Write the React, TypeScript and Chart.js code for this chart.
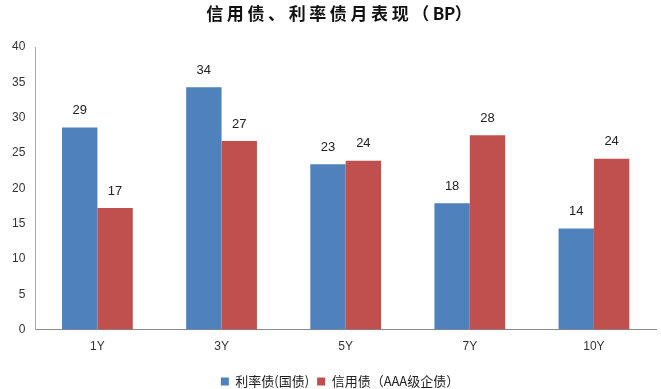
import React, { useEffect, useRef } from "react";
import { Chart, registerables } from "chart.js";

Chart.register(...registerables);

const categories = ["1Y", "3Y", "5Y", "7Y", "10Y"];
const rateBond = [28.6, 34.3, 23.4, 17.9, 14.3];
const creditBond = [17.2, 26.7, 23.9, 27.5, 24.2];
const seriesNames = ["利率债(国债)", "信用债（AAA级企债）"];
const titleText = "信用债、利率债月表现（BP）";

const valueLabels = {
  id: "valueLabels",
  afterDatasetsDraw(chart: any) {
    const ctx = chart.ctx;
    ctx.save();
    ctx.font = "13px 'Liberation Sans', Arial, sans-serif";
    ctx.fillStyle = "#222";
    ctx.textAlign = "center";
    ctx.textBaseline = "middle";
    chart.data.datasets.forEach((ds: any, i: number) => {
      const meta = chart.getDatasetMeta(i);
      meta.data.forEach((bar: any, j: number) => {
        ctx.fillText(String(Math.round(ds.data[j])), bar.x, bar.y - 17);
      });
    });
    ctx.restore();
  },
};

const spacedTitle = {
  id: "spacedTitle",
  afterDraw(chart: any) {
    const ctx = chart.ctx;
    ctx.save();
    ctx.font = "bold 17px 'Noto Sans CJK SC', sans-serif";
    ctx.fillStyle = "#111";
    ctx.textAlign = "left";
    ctx.textBaseline = "middle";
    const chars = Array.from(titleText);
    let total = 0;
    const adv = chars.map((c) => {
      const w = ctx.measureText(c).width;
      const a = /[A-Za-z]/.test(c) ? w - 0.5 : w + 3.6;
      total += a;
      return a;
    });
    let x = 339 - (total - 3.6) / 2;
    chars.forEach((c, i) => {
      ctx.fillText(c, x, 14);
      x += adv[i];
    });
    ctx.restore();
  },
};

const shiftLegend = {
  id: "shiftLegend",
  afterLayout(chart: any) {
    if (chart.legend) {
      chart.legend.left += 11;
      chart.legend.right += 11;
    }
  },
};

export default function App() {
  const ref = useRef<HTMLCanvasElement>(null);
  useEffect(() => {
    const chart = new Chart(ref.current!, {
      type: "bar",
      data: {
        labels: categories,
        datasets: [
          { label: seriesNames[0], data: rateBond, backgroundColor: "#4F81BD" },
          { label: seriesNames[1], data: creditBond, backgroundColor: "#C0504D" },
        ],
      },
      options: {
        animation: false,
        responsive: false,
        maintainAspectRatio: false,
        layout: { padding: { left: 2, right: 5, top: 47, bottom: -9 } },
        datasets: {
          bar: { categoryPercentage: 0.57, barPercentage: 1.0 },
        } as any,
        scales: {
          x: {
            grid: { display: false, drawTicks: false },
            border: { color: "#8a8a8a", width: 1 },
            ticks: {
              color: "#333",
              font: { size: 12, family: "'Liberation Sans', Arial, sans-serif" },
              padding: 10,
            },
            afterFit(scale: any) {
              scale.height += 3;
            },
          },
          y: {
            min: 0,
            max: 40,
            grid: { display: false, drawTicks: false },
            border: { color: "#a6a6a6", width: 1 },
            ticks: {
              stepSize: 5,
              color: "#333",
              font: { size: 12, family: "'Liberation Sans', Arial, sans-serif" },
              padding: 10,
            },
          },
        },
        plugins: {
          title: { display: false },
          legend: {
            position: "bottom",
            labels: {
              boxWidth: 8,
              boxHeight: 8,
              padding: 8,
              color: "#222",
              font: { size: 13, family: "'Noto Sans CJK SC', sans-serif" },
            },
          },
          tooltip: { enabled: false },
        },
      },
      plugins: [valueLabels, spacedTitle, shiftLegend],
    });
    return () => chart.destroy();
  }, []);
  return (
    <div style={{ position: "fixed", left: 0, top: 0, width: 661, height: 389, background: "#fff" }}>
      <canvas ref={ref} width={661} height={389} />
    </div>
  );
}
